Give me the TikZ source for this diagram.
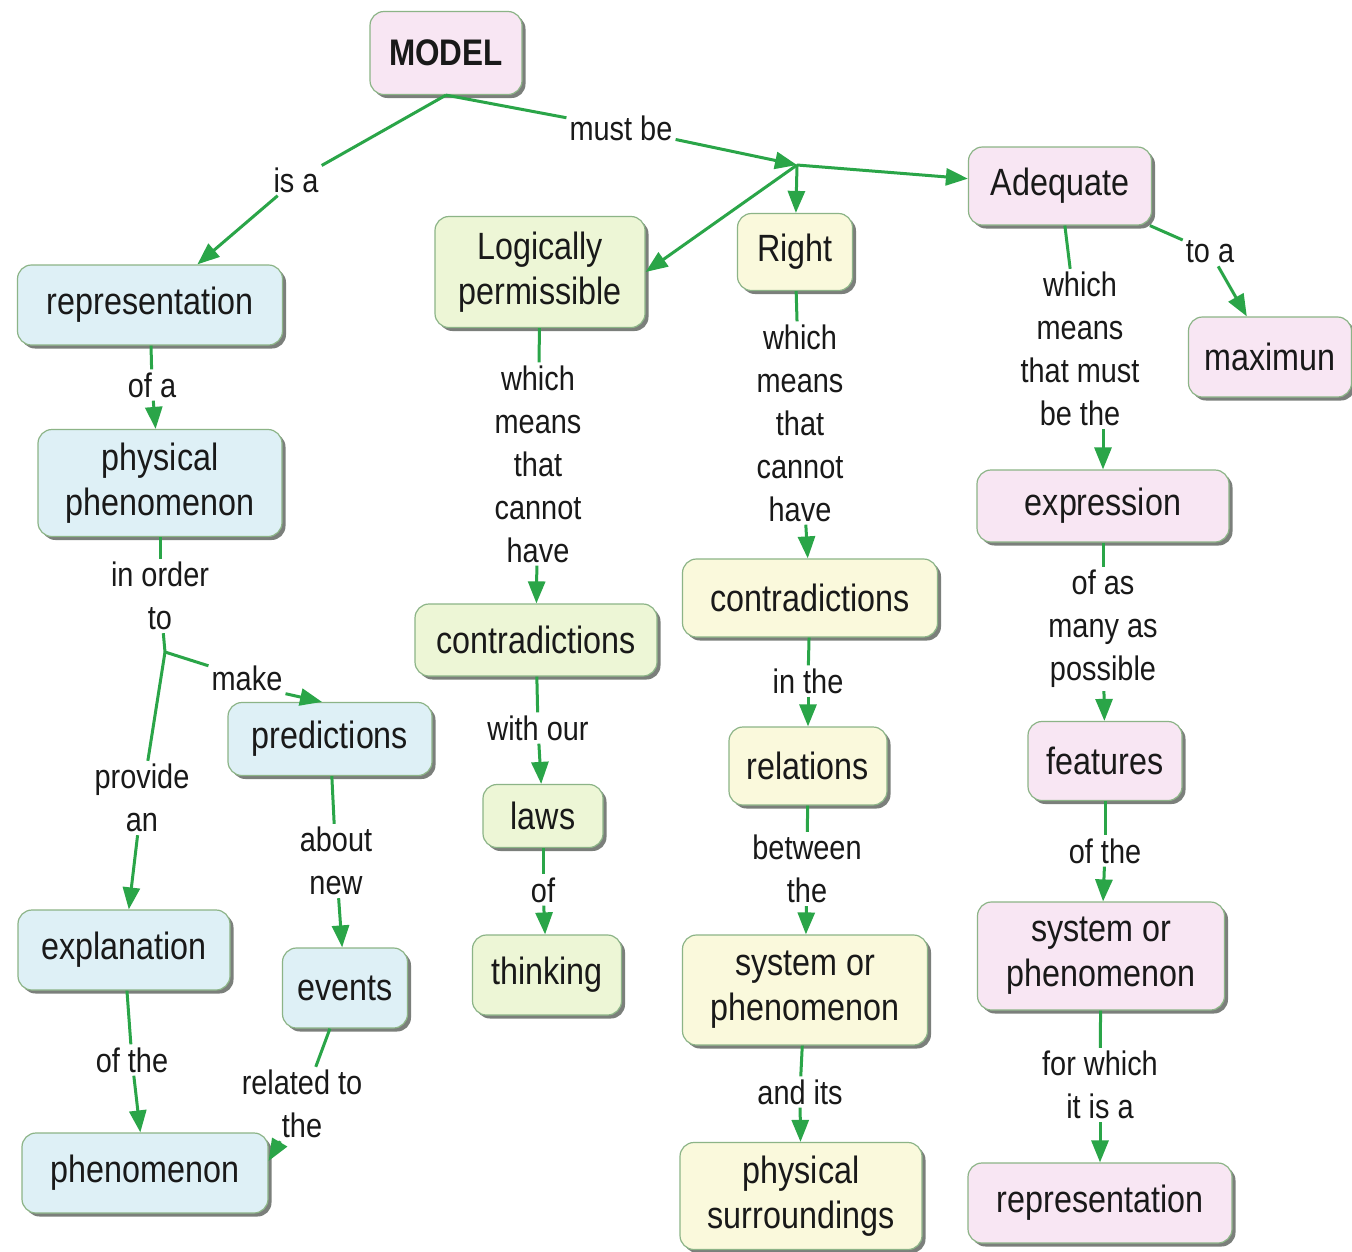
\documentclass[tikz,border=0pt]{standalone}
\usepackage{fontspec}
\setmainfont{Liberation Sans}[FakeStretch=0.85]
\usetikzlibrary{arrows.meta,shadows,calc}

\definecolor{linkgreen}{RGB}{42,165,72}
\definecolor{nodeline}{RGB}{140,180,135}
\definecolor{shadowgray}{RGB}{100,105,100}
\definecolor{txt}{RGB}{25,25,25}
\definecolor{fblue}{RGB}{222,240,246}
\definecolor{fgreen}{RGB}{237,246,214}
\definecolor{fyellow}{RGB}{250,249,220}
\definecolor{fpink}{RGB}{248,230,243}

\begin{document}
\begin{tikzpicture}[x=1pt,y=-1pt,
  concept/.style={draw=nodeline, line width=1.2pt, rounded corners=14pt,
    align=center, font=\fontsize{38}{45}\selectfont, text=txt, inner sep=0pt,
    drop shadow={shadow xshift=3.5pt, shadow yshift=-3.5pt, fill=shadowgray, opacity=0.85}},
  cblue/.style={concept, fill=fblue},
  cgreen/.style={concept, fill=fgreen},
  cyellow/.style={concept, fill=fyellow},
  cpink/.style={concept, fill=fpink},
  lab/.style={font=\fontsize{34}{43}\selectfont, align=center, inner sep=3pt, text=txt},
  link/.style={draw=linkgreen, line width=3pt},
  arr/.style={link, -{Triangle[length=22pt,width=17pt]}}]

\useasboundingbox (0,0) rectangle (1352,1251);
\fill[white] (0,0) rectangle (1352,1251);

% ---- concepts ----
\node[cpink, minimum width=152pt, minimum height=83pt, font=\bfseries\fontsize{37}{44}\selectfont] (model) at (446,53) {MODEL};

\node[cblue, minimum width=265pt, minimum height=80pt] (repr) at (150,305) {representation};
\node[cblue, minimum width=244pt, minimum height=107pt] (physph) at (160,483) {physical\\phenomenon};
\node[cblue, minimum width=204pt, minimum height=73pt] (pred) at (330,739) {predictions};
\node[cblue, minimum width=212pt, minimum height=80pt] (expl) at (124,950) {explanation};
\node[cblue, minimum width=246pt, minimum height=80pt] (phen) at (145,1173) {phenomenon};
\node[cblue, minimum width=125pt, minimum height=80pt] (events) at (345,988) {events};

\node[cgreen, minimum width=210pt, minimum height=111pt] (logic) at (540,272) {Logically\\permissible};
\node[cgreen, minimum width=242pt, minimum height=72pt] (contrg) at (536,640) {contradictions};
\node[cgreen, minimum width=120pt, minimum height=63pt] (laws) at (543,816) {laws};
\node[cgreen, minimum width=149pt, minimum height=80pt] (think) at (547,975) {thinking};

\node[cyellow, minimum width=115pt, minimum height=77pt] (right) at (795,252) {Right};
\node[cyellow, minimum width=255pt, minimum height=78pt] (contry) at (810,598) {contradictions};
\node[cyellow, minimum width=158pt, minimum height=78pt] (rel) at (808,766) {relations};
\node[cyellow, minimum width=245pt, minimum height=110pt] (sysy) at (805,990) {system or\\phenomenon};
\node[cyellow, minimum width=242pt, minimum height=107pt] (surr) at (801,1196) {physical\\surroundings};

\node[cpink, minimum width=183pt, minimum height=78pt] (adeq) at (1060,186) {Adequate};
\node[cpink, minimum width=163pt, minimum height=80pt] (maxi) at (1270,357) {maximun};
\node[cpink, minimum width=252pt, minimum height=72pt] (expr) at (1103,506) {expression};
\node[cpink, minimum width=154pt, minimum height=79pt] (feat) at (1105,761) {features};
\node[cpink, minimum width=247pt, minimum height=108pt] (sysp) at (1101,956) {system or\\phenomenon};
\node[cpink, minimum width=264pt, minimum height=80pt] (reprp) at (1100,1203) {representation};

% ---- link phrases ----
\node[lab] (isa) at (296,180) {is a};
\node[lab] (mustbe) at (621,128) {must be};
\node[lab] (ofa) at (152,385) {of a};
\node[lab] (inorder) at (160,596) {in order\\to};
\node[lab] (make) at (247,678) {make};
\node[lab] (provide) at (142,798) {provide\\an};
\node[lab] (ofthe1) at (132,1060) {of the};
\node[lab] (about) at (336,861) {about\\new};
\node[lab] (related) at (302,1104) {related to\\the};
\node[lab] (which1) at (538,464) {which\\means\\that\\cannot\\have};
\node[lab] (withour) at (538,728) {with our};
\node[lab] (of) at (543,890) {of};
\node[lab] (which2) at (800,423) {which\\means\\that\\cannot\\have};
\node[lab] (inthe) at (808,681) {in the};
\node[lab] (between) at (807,869) {between\\the};
\node[lab] (andits) at (800,1092) {and its};
\node[lab] (which3) at (1080,349) {which\\means\\that must\\be the};
\node[lab] (toa) at (1210,252) {to a};
\node[lab] (ofasmany) at (1103,629) {of as\\many as\\possible};
\node[lab] (ofthe2) at (1105,851) {of the};
\node[lab] (forwhich) at (1100,1085) {for which\\it is a};

% ---- branching points and arrow targets ----
\coordinate (j1) at (797,165);
\coordinate (j2) at (165,652);
\coordinate (predin) at ($(pred.north)+(-8,0)$);
\coordinate (phenin) at ($(phen.east)+(0,-12)$);

% ---- connectors ----
\draw[link] (model.south) -- (isa);
\draw[arr] (isa) -- (repr);
\draw[link] (model.south) -- (mustbe);
\draw[arr] (mustbe) -- (j1);
\draw[arr] (j1) -- (logic.east);
\draw[arr] (j1) -- (right);
\draw[arr] (j1) -- (adeq);

\draw[link] (repr) -- (ofa);
\draw[arr] (ofa) -- (physph);
\draw[link] (physph) -- (inorder);
\draw[link] (inorder) -- (j2);
\draw[link] (j2) -- (make);
\draw[arr] (make.south east) -- (predin);
\draw[link] (j2) -- (provide);
\draw[arr] (provide) -- (expl);
\draw[link] (expl) -- (ofthe1);
\draw[arr] (ofthe1) -- (phen);
\draw[link] (pred) -- (about);
\draw[arr] (about) -- (events);
\draw[link] (events) -- (related);
\draw[arr] (related) -- (phenin);

\draw[link] (logic) -- (which1);
\draw[arr] (which1) -- (contrg);
\draw[link] (contrg) -- (withour);
\draw[arr] (withour) -- (laws);
\draw[link] (laws) -- (of);
\draw[arr] (of) -- (think);

\draw[link] (right) -- (which2);
\draw[arr] (which2) -- (contry);
\draw[link] (contry) -- (inthe);
\draw[arr] (inthe) -- (rel);
\draw[link] (rel) -- (between);
\draw[arr] (between) -- (sysy);
\draw[link] (sysy) -- (andits);
\draw[arr] (andits) -- (surr);

\draw[link] (adeq) -- (which3);
\draw[arr] (which3.south -| expr.north) -- (expr.north);
\draw[link] (adeq) -- (toa);
\draw[arr] (toa) -- (maxi);
\draw[link] (expr) -- (ofasmany);
\draw[arr] (ofasmany) -- (feat);
\draw[link] (feat) -- (ofthe2);
\draw[arr] (ofthe2) -- (sysp);
\draw[link] (sysp) -- (forwhich);
\draw[arr] (forwhich) -- (reprp);
\end{tikzpicture}
\end{document}
